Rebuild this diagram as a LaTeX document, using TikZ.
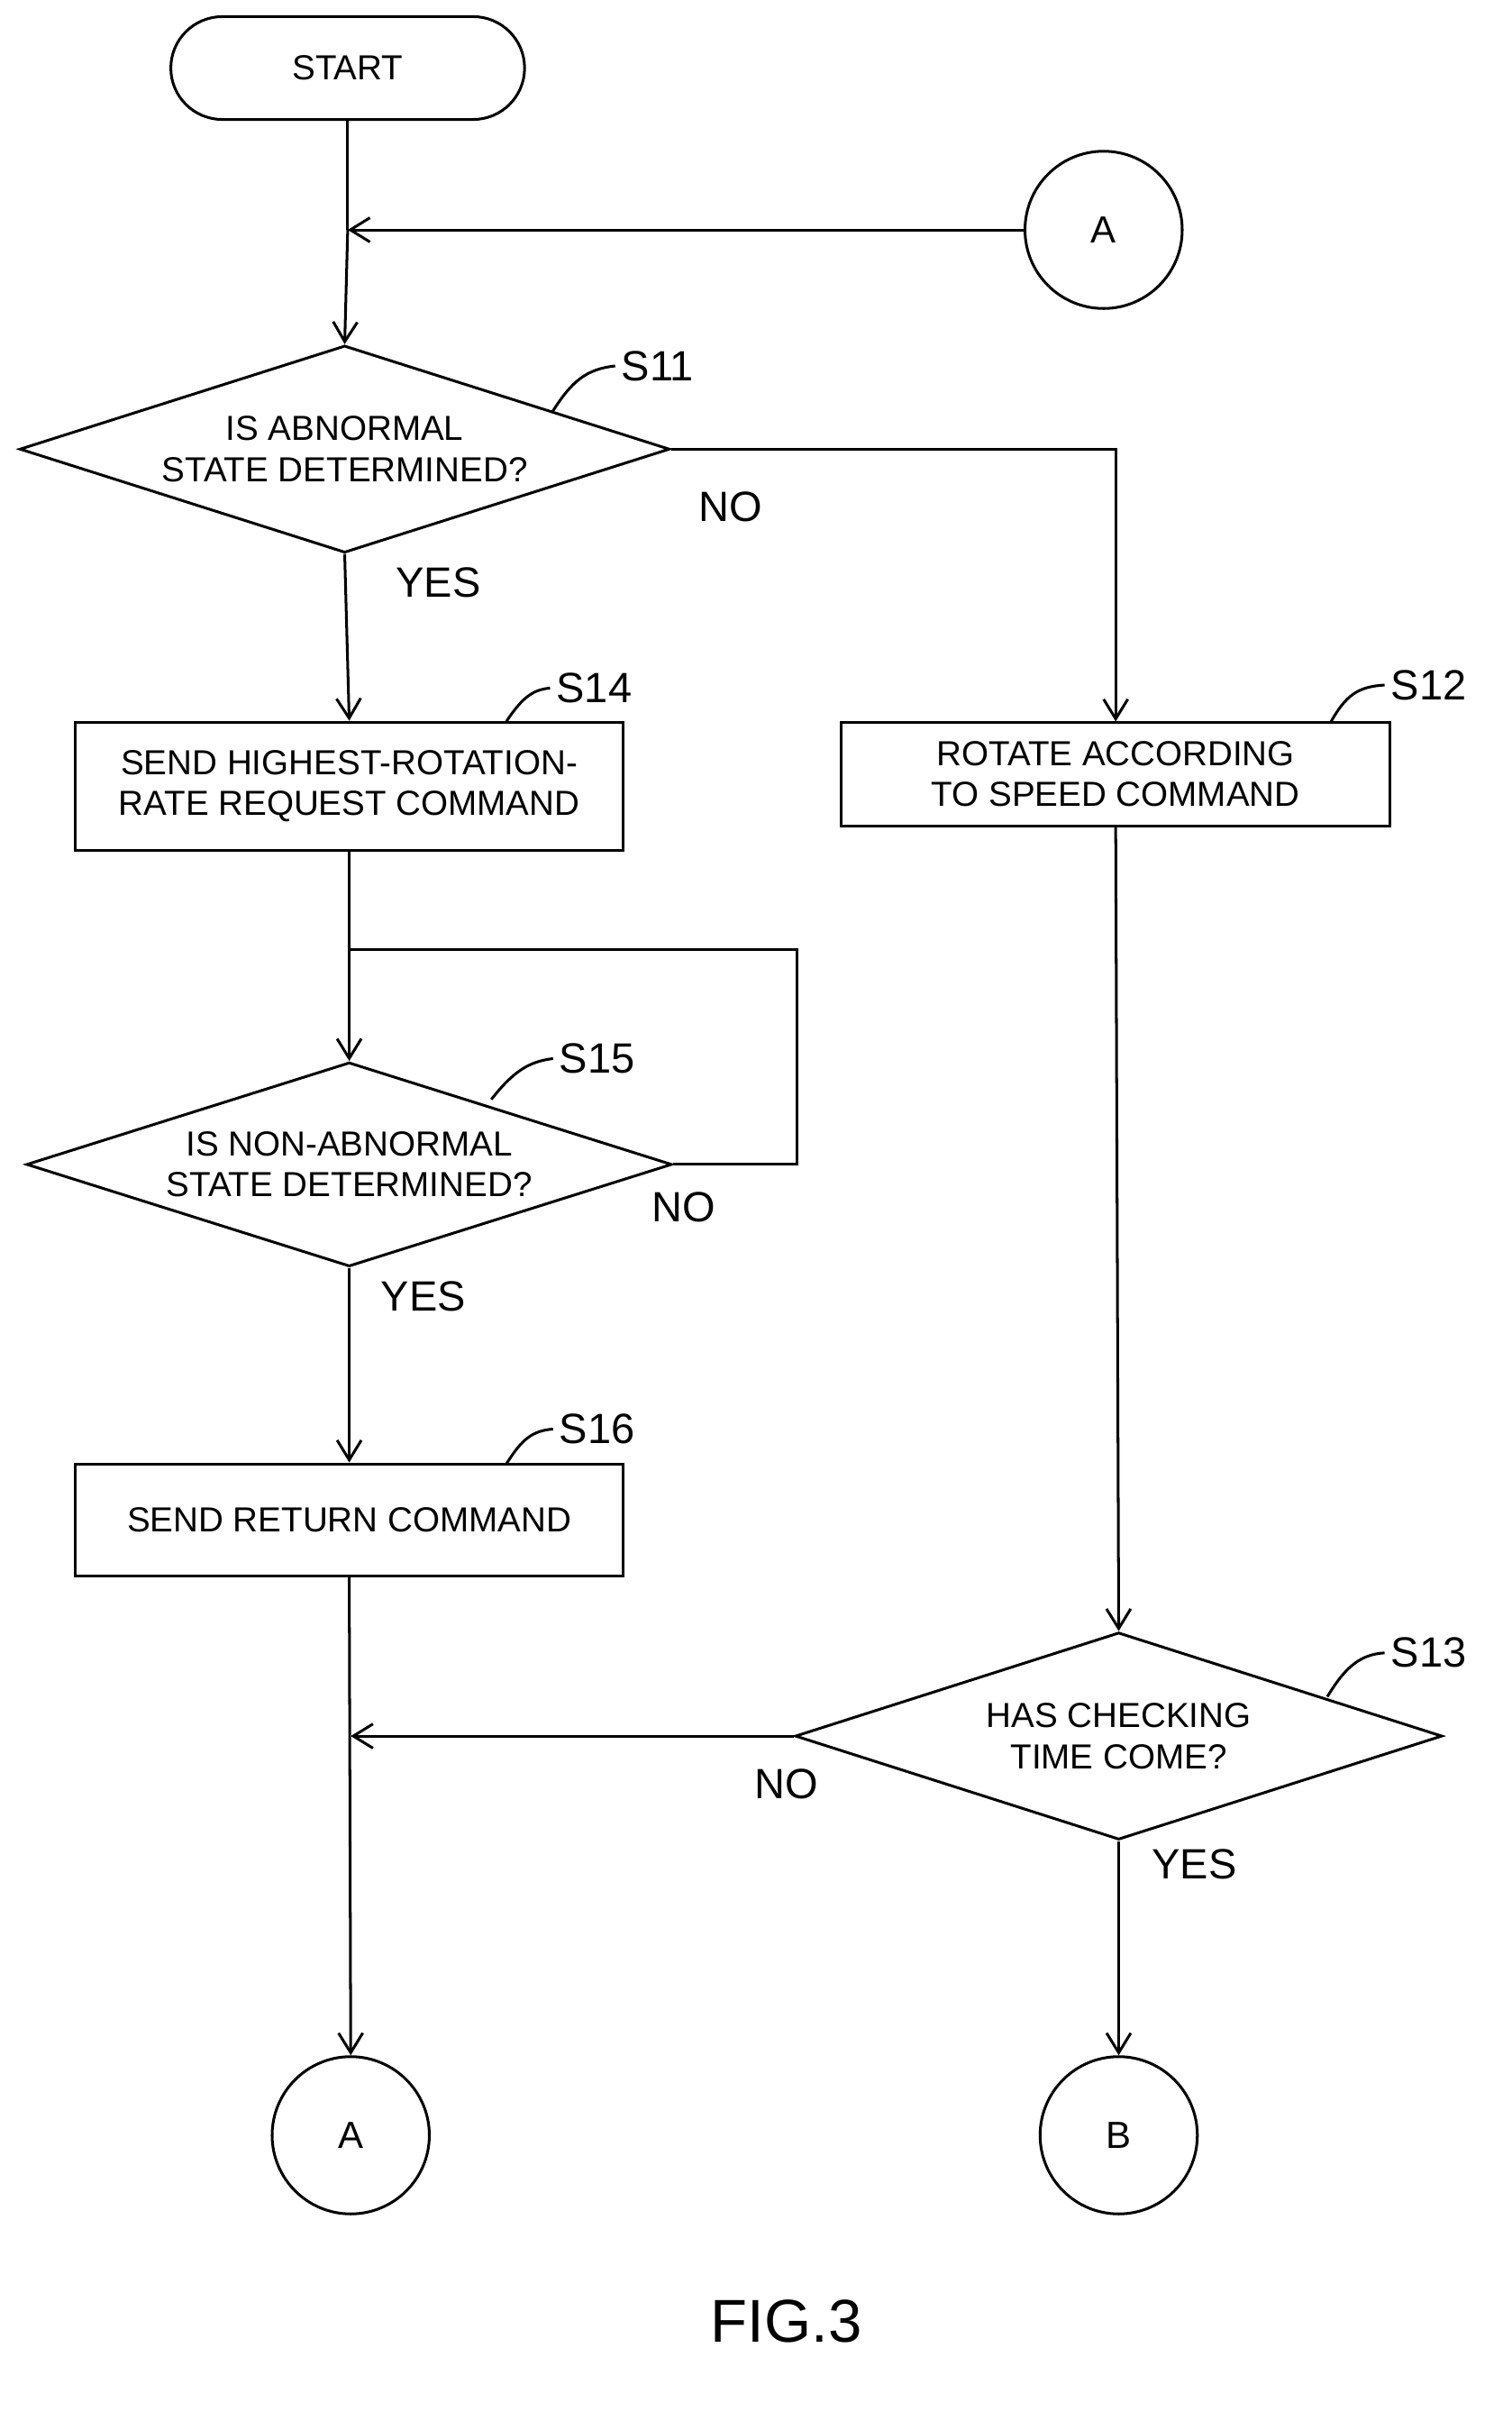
\documentclass[tikz,border=0pt]{standalone}
\usepackage{fontspec}
\setmainfont{Liberation Sans}
\usetikzlibrary{shapes.geometric,arrows.meta}
\tikzset{every picture/.style={line width=1.8pt}}
\tikzset{
  box/.style={draw,rectangle,inner sep=0pt,align=center,font=\fontsize{23}{27}\selectfont},
  dia/.style={draw,diamond,inner sep=0pt,aspect=3,align=center,font=\fontsize{23}{27}\selectfont},
  conn/.style={draw,circle,minimum size=104pt,inner sep=0pt,font=\fontsize{25}{30}\selectfont},
  lbl/.style={font=\fontsize{28}{32}\selectfont},
  arr/.style={-{Straight Barb[length=13pt,width=16pt]}}
}
\begin{document}
\begin{tikzpicture}[x=1pt,y=1pt,yscale=-1,xscale=1]
\useasboundingbox (0,0) rectangle (1000,1595);

% Nodes
\node [box,rounded corners=34pt,minimum width=234pt,minimum height=68pt] (start) at (230,45) {START};
\node [conn] (A1) at (730,152) {A};
\node [dia,minimum width=430pt,minimum height=137pt] (s11) at (228,297) {IS ABNORMAL\\STATE DETERMINED?};
\node [box,minimum width=362pt,minimum height=85pt] (s14) at (231,520) {SEND HIGHEST-ROTATION-\\RATE REQUEST COMMAND};
\node [box,minimum width=363pt,minimum height=68pt] (s12) at (738,512) {ROTATE ACCORDING\\TO SPEED COMMAND};
\node [dia,minimum width=427pt,minimum height=135pt] (s15) at (231,770) {IS NON-ABNORMAL\\STATE DETERMINED?};
\node [box,minimum width=362pt,minimum height=74pt] (s16) at (231,1005) {SEND RETURN COMMAND};
\node [dia,minimum width=428pt,minimum height=137pt] (s13) at (740,1148) {HAS CHECKING\\TIME COME?};
\node [conn] (A2) at (232,1412) {A};
\node [conn] (B) at (740,1412) {B};

% Step labels
\node [lbl] (l11) at (435,242) {S11};
\node [lbl] (l14) at (393,455) {S14};
\node [lbl] (l12) at (945,453) {S12};
\node [lbl] (l15) at (395,700) {S15};
\node [lbl] (l16) at (395,945) {S16};
\node [lbl] (l13) at (945,1093) {S13};
\draw (365,273) .. controls (378,252) and (388,244) .. (l11.west);
\draw (335,477) .. controls (345,462) and (352,456) .. (l14.west);
\draw (880,478) .. controls (890,460) and (898,454) .. (l12.west);
\draw (325,727) .. controls (340,708) and (350,702) .. (l15.west);
\draw (335,968) .. controls (345,952) and (352,946) .. (l16.west);
\draw (878,1122) .. controls (890,1102) and (900,1094) .. (l13.west);

% Yes / No
\node [lbl] at (483,335) {NO};
\node [lbl] at (290,385) {YES};
\node [lbl] at (452,798) {NO};
\node [lbl] at (280,857) {YES};
\node [lbl] at (520,1180) {NO};
\node [lbl] at (790,1233) {YES};

% Connections
\coordinate (j1) at (230,152);
\coordinate (j2) at (230,628);
\coordinate (j3) at (232,1148);
\draw (start) -- (j1);
\draw [arr] (A1) -- (j1);
\draw [arr] (j1) -- (s11.north);
\draw [arr] (s11.south) -- (s14.north);
\draw [arr] (s11.east) -| (s12.north);
\draw [arr] (s14.south) -- (s15.north);
\draw (s15.east) -- (527,770) |- (j2);
\draw [arr] (s15.south) -- (s16.north);
\draw [arr] (s16.south) -- (A2.north);
\draw [arr] (s12.south) -- (s13.north);
\draw [arr] (s13.west) -- (j3);
\draw [arr] (s13.south) -- (B.north);

\node [font=\fontsize{40}{46}\selectfont] (fig) at (520,1535) {FIG.3};
\end{tikzpicture}
\end{document}
